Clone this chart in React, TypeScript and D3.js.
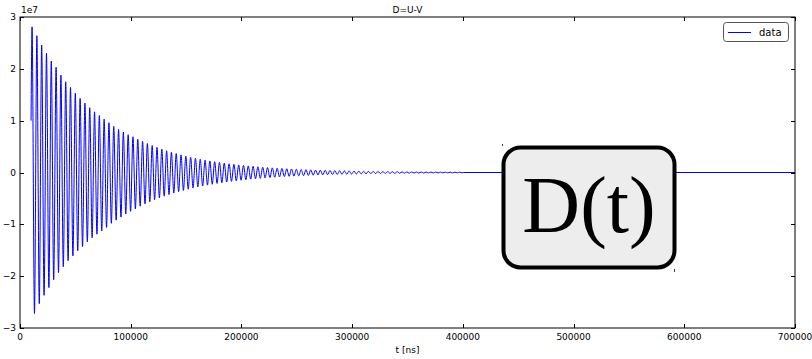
import { useEffect, useRef } from "react";
import * as d3 from "d3";

// D(t) extrema, in units of 1e7
const peaks = [
  2.81, 2.64, 2.46, 2.3, 2.15, 2.03, 1.88, 1.75, 1.64, 1.53, 1.43, 1.34, 1.25,
  1.17, 1.1, 1.03, 0.96, 0.89, 0.83, 0.78, 0.73, 0.69, 0.64, 0.6, 0.56, 0.52,
  0.485, 0.45, 0.42, 0.39, 0.365, 0.34, 0.317, 0.295, 0.275, 0.256, 0.239,
  0.223, 0.208, 0.194, 0.181, 0.168, 0.157, 0.146, 0.136, 0.127, 0.118, 0.11,
  0.103, 0.096, 0.089, 0.083, 0.078, 0.072, 0.067, 0.063, 0.058, 0.054, 0.051,
  0.047, 0.044, 0.041, 0.038, 0.036, 0.033, 0.031, 0.029, 0.027, 0.025, 0.023,
  0.022, 0.02, 0.019, 0.018, 0.016, 0.015, 0.014, 0.013, 0.012, 0.011, 0.0105,
  0.0098, 0.0091, 0.0085, 0.008, 0.0074, 0.0069, 0.0064, 0.006, 0.0056,
];
const troughs = [
  -2.72, -2.53, -2.37, -2.22, -2.07, -1.93, -1.82, -1.7, -1.61, -1.51, -1.43,
  -1.34, -1.26, -1.19, -1.13, -1.06, -0.98, -0.92, -0.86, -0.8, -0.75, -0.7,
  -0.65, -0.605, -0.565, -0.525, -0.49, -0.457, -0.426, -0.397, -0.37, -0.345,
  -0.322, -0.3, -0.28, -0.261, -0.243, -0.227, -0.211, -0.197, -0.184, -0.171,
  -0.16, -0.149, -0.139, -0.129, -0.12, -0.112, -0.105, -0.098, -0.091, -0.085,
  -0.079, -0.074, -0.069, -0.064, -0.06, -0.056, -0.052, -0.048, -0.045,
  -0.042, -0.039, -0.037, -0.034, -0.032, -0.03, -0.028, -0.026, -0.024,
  -0.022, -0.021, -0.019, -0.018, -0.017, -0.016, -0.015, -0.014, -0.013,
  -0.012, -0.011, -0.0102, -0.0095, -0.0089, -0.0083, -0.0077, -0.0072,
  -0.0067, -0.0062, -0.0058,
];
const startT = 10000;
const startValue = 1.0;
const firstPeakT = 10900;
const halfPeriod = 2170;
const endT = 700000;

const xTicks = [0, 100000, 200000, 300000, 400000, 500000, 600000, 700000];
const yTicks = [-3, -2, -1, 0, 1, 2, 3];

interface Pt {
  t: number;
  v: number;
}

const W = 812;
const H = 359;
const margin = { top: 17, right: 17, bottom: 31, left: 20 };
const FONT = "DejaVu Sans, sans-serif";

export default function App() {
  const svgRef = useRef<SVGSVGElement>(null);

  useEffect(() => {
    if (!svgRef.current) return;
    const svg = d3.select(svgRef.current);
    svg.selectAll("*").remove();

    const x = d3
      .scaleLinear()
      .domain([0, 700000])
      .range([margin.left, W - margin.right]);
    const y = d3
      .scaleLinear()
      .domain([-3, 3])
      .range([H - margin.bottom, margin.top]);

    const pts: Pt[] = [{ t: startT, v: startValue }];
    peaks.forEach((p, i) => {
      pts.push({ t: firstPeakT + 2 * i * halfPeriod, v: p });
      if (i < troughs.length)
        pts.push({ t: firstPeakT + (2 * i + 1) * halfPeriod, v: troughs[i] });
    });
    const lastT = pts[pts.length - 1].t;
    pts.push({ t: lastT + halfPeriod / 2, v: 0 });
    pts.push({ t: endT, v: 0 });

    svg
      .append("rect")
      .attr("width", W)
      .attr("height", H)
      .attr("fill", "#ffffff");

    const clipId = "plot-clip";
    svg
      .append("clipPath")
      .attr("id", clipId)
      .append("rect")
      .attr("x", margin.left)
      .attr("y", margin.top)
      .attr("width", W - margin.left - margin.right)
      .attr("height", H - margin.top - margin.bottom);

    const line = d3
      .line<Pt>()
      .x((d) => x(d.t))
      .y((d) => y(d.v))
      .curve(d3.curveMonotoneX);

    svg
      .append("path")
      .datum(pts)
      .attr("clip-path", `url(#${clipId})`)
      .attr("d", line)
      .attr("fill", "none")
      .attr("stroke", "#0000ff")
      .attr("stroke-width", 1);

    // frame
    svg
      .append("rect")
      .attr("x", margin.left)
      .attr("y", margin.top)
      .attr("width", W - margin.left - margin.right)
      .attr("height", H - margin.top - margin.bottom)
      .attr("fill", "none")
      .attr("stroke", "#000")
      .attr("stroke-width", 1);

    const tickLen = 4;
    const bottom = H - margin.bottom;
    const right = W - margin.right;

    // x ticks (inside, bottom and top)
    xTicks.forEach((t) => {
      const px = Math.round(x(t)) + 0.5;
      svg
        .append("line")
        .attr("x1", px)
        .attr("x2", px)
        .attr("y1", bottom)
        .attr("y2", bottom - tickLen)
        .attr("stroke", "#000");
      svg
        .append("line")
        .attr("x1", px)
        .attr("x2", px)
        .attr("y1", margin.top)
        .attr("y2", margin.top + tickLen)
        .attr("stroke", "#000");
      svg
        .append("text")
        .attr("x", x(t))
        .attr("y", bottom + 12)
        .attr("text-anchor", "middle")
        .attr("font-family", FONT)
        .attr("font-size", 9)
        .attr("fill", "#000")
        .text(String(t));
    });

    // y ticks
    yTicks.forEach((v) => {
      const py = Math.round(y(v)) + 0.5;
      svg
        .append("line")
        .attr("x1", margin.left)
        .attr("x2", margin.left + tickLen)
        .attr("y1", py)
        .attr("y2", py)
        .attr("stroke", "#000");
      svg
        .append("line")
        .attr("x1", right)
        .attr("x2", right - tickLen)
        .attr("y1", py)
        .attr("y2", py)
        .attr("stroke", "#000");
      svg
        .append("text")
        .attr("x", margin.left - 4)
        .attr("y", y(v))
        .attr("dy", "0.35em")
        .attr("text-anchor", "end")
        .attr("font-family", FONT)
        .attr("font-size", 9)
        .attr("fill", "#000")
        .text(v < 0 ? `\u2212${Math.abs(v)}` : String(v));
    });

    // offset text, title, x label
    svg
      .append("text")
      .attr("x", margin.left + 1)
      .attr("y", margin.top - 4)
      .attr("font-family", FONT)
      .attr("font-size", 9)
      .text("1e7");
    svg
      .append("text")
      .attr("x", (margin.left + right) / 2)
      .attr("y", margin.top - 4)
      .attr("text-anchor", "middle")
      .attr("font-family", FONT)
      .attr("font-size", 9)
      .text("D=U-V");
    svg
      .append("text")
      .attr("x", (margin.left + right) / 2)
      .attr("y", H - 6)
      .attr("text-anchor", "middle")
      .attr("font-family", FONT)
      .attr("font-size", 9)
      .text("t [ns]");

    // legend
    const lg = svg.append("g");
    lg.append("rect")
      .attr("x", 723.5)
      .attr("y", 22.5)
      .attr("width", 65)
      .attr("height", 19)
      .attr("rx", 3)
      .attr("fill", "#fff")
      .attr("stroke", "#555")
      .attr("stroke-width", 1);
    lg.append("line")
      .attr("x1", 728)
      .attr("x2", 751)
      .attr("y1", 32.5)
      .attr("y2", 32.5)
      .attr("stroke", "#0000ff");
    lg.append("text")
      .attr("x", 759)
      .attr("y", 35.5)
      .attr("font-family", FONT)
      .attr("font-size", 10)
      .text("data");

    // D(t) badge
    const bx = 503.5;
    const by = 147.5;
    const bw = 171;
    const bh = 120;
    svg
      .append("rect")
      .attr("x", bx)
      .attr("y", by)
      .attr("width", bw)
      .attr("height", bh)
      .attr("rx", 17)
      .attr("fill", "#ededed")
      .attr("stroke", "#000")
      .attr("stroke-width", 4);
    svg
      .append("text")
      .attr("x", bx + bw / 2)
      .attr("y", 232)
      .attr("text-anchor", "middle")
      .attr("font-family", "Liberation Serif, serif")
      .attr("font-size", 80)
      .attr("fill", "#000")
      .text("D(t)");
    svg
      .append("line")
      .attr("x1", 502.5)
      .attr("x2", 502.5)
      .attr("y1", 144)
      .attr("y2", 146)
      .attr("stroke", "#444");
    svg
      .append("line")
      .attr("x1", 674.5)
      .attr("x2", 674.5)
      .attr("y1", 269)
      .attr("y2", 272)
      .attr("stroke", "#444");
  }, []);

  return (
    <svg
      ref={svgRef}
      width={W}
      height={H}
      style={{ position: "absolute", left: 0, top: 0, display: "block" }}
    />
  );
}
